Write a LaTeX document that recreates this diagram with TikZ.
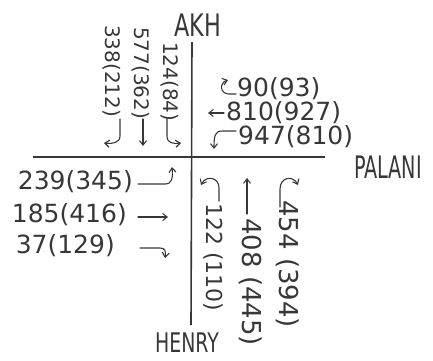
\documentclass[tikz,border=0pt]{standalone}
\usepackage{fontspec}
\usepackage{graphicx}
\setmainfont{DejaVu Sans}
\usetikzlibrary{arrows.meta}
\definecolor{pencil}{RGB}{55,55,55}
\tikzset{
  road/.style     = {line width=1.6pt, pencil},
  turn/.style     = {line width=1.1pt, pencil, line cap=round,
                     -{Straight Barb[length=4.5pt, width=7pt]}},
  count/.style    = {font=\fontsize{25}{25}\selectfont, text=pencil, inner sep=0pt},
  countN/.style   = {count, rotate=-90, anchor=west, font=\fontsize{20}{20}\selectfont},
  countS/.style   = {count, rotate=-90, anchor=west, font=\fontsize{26}{26}\selectfont},
  roadname/.style = {font=\fontsize{31}{31}\selectfont, text=pencil, inner sep=0pt},
}

\begin{document}
\begin{tikzpicture}[x=1pt, y=-1pt]
\useasboundingbox (0,0) rectangle (433,360);

% ===== Roads =====
\coordinate (akhEnd)    at (192,42);
\coordinate (henryEnd)  at (191,325);
\coordinate (westEnd)   at (33,157);
\coordinate (palaniEnd) at (325,157);
\draw[road] (akhEnd) -- (henryEnd);
\draw[road] (westEnd) -- (palaniEnd);

\node[roadname] (akh)    at (198,25)  {\scalebox{0.72}[1]{AKH}};
\node[roadname, font=\fontsize{27}{27}\selectfont]
  (henry) at (187,343) {\scalebox{0.7}[1]{HENRY}};
\node[roadname] (palani) at (388,167) {\scalebox{0.62}[1]{PALANI}};

% ===== AKH approach =====
\node[countN] (nRight) at (112,25) {338(212)};
\node[countN] (nThru)  at (141,27) {577(362)};
\node[countN] (nLeft)  at (170,42) {124(84)};
\draw[turn] (120,119) -- (120,136) .. controls (120,143) and (112,144) .. (104,143);
\draw[turn] (143,119) -- (143,146);
\draw[turn] (167,119) -- (167,136) .. controls (167,143) and (173,144) .. (181,143);

% ===== PALANI approach =====
\node[count, anchor=west] (eRight) at (237,89)  {90(93)};
\node[count, anchor=west] (eThru)  at (226,113) {810(927)};
\node[count, anchor=west] (eLeft)  at (238,137) {947(810)};
\draw[turn] (236,94) -- (229,94) .. controls (220,94) and (219,83) .. (228,80);
\draw[turn] (224,113) -- (208,113);
\draw[turn] (236,131) -- (222,131) .. controls (215,131) and (214,136) .. (214,149);

% ===== West approach =====
\node[count, anchor=east] (wLeft)  at (133,182) {239(345)};
\node[count, anchor=east] (wThru)  at (127,215) {185(416)};
\node[count, anchor=east] (wRight) at (115,246) {37(129)};
\draw[turn] (138,184) -- (165,184) .. controls (172,184) and (173,178) .. (172,167);
\draw[turn] (138,217) -- (168,217);
\draw[turn] (140,248) -- (160,248) .. controls (165,248) and (166,251) .. (165,258);

% ===== HENRY approach =====
\node[countS, font=\fontsize{22}{22}\selectfont] (sLeft) at (213,203) {122 (110)};
\node[countS] (sThru)  at (251,218) {408 (445)};
\node[countS] (sRight) at (288,200) {454 (394)};
\draw[turn] (219,201) -- (219,188) .. controls (219,177) and (206,175) .. (201,185);
\draw[turn] (247,214) -- (247,178);
\draw[turn] (280,207) -- (280,189) .. controls (280,177) and (293,175) .. (298,185);

\end{tikzpicture}
\end{document}
